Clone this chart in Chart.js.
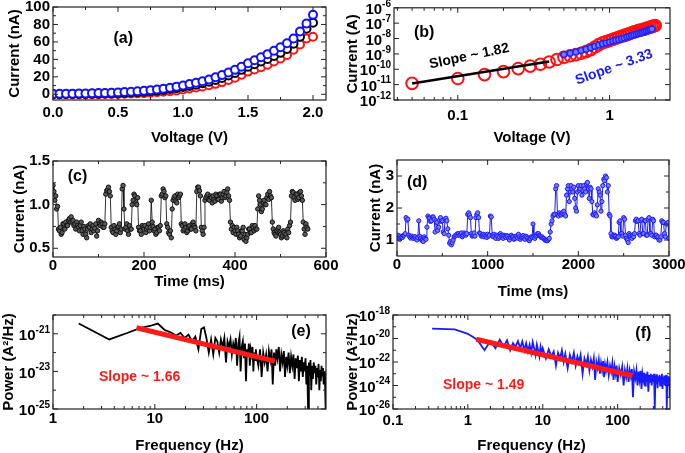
<!DOCTYPE html>
<html><head><meta charset="utf-8">
<script src="https://cdn.jsdelivr.net/npm/chart.js@4/dist/chart.umd.min.js"></script>
<style>
html,body{margin:0;padding:0;background:#fff;width:685px;height:453px;overflow:hidden;position:relative}
canvas{position:absolute}
</style></head><body>
<canvas id="ca" width="340" height="150" style="left:0;top:0"></canvas>
<canvas id="cb" width="345" height="150" style="left:340px;top:0"></canvas>
<canvas id="cc" width="340" height="150" style="left:0;top:150px"></canvas>
<canvas id="cd" width="345" height="150" style="left:340px;top:150px"></canvas>
<canvas id="ce" width="340" height="153" style="left:0;top:300px"></canvas>
<canvas id="cf" width="345" height="153" style="left:340px;top:300px"></canvas>
<script>
// ---------- DATA ----------
// (a) I-V curves, current in nA
const aVoltage = [0,0.05,0.1,0.15,0.2,0.25,0.3,0.35,0.4,0.45,0.5,0.55,0.6,0.65,0.7,0.75,0.8,0.85,0.9,0.95,1.0,1.05,1.1,1.15,1.2,1.25,1.3,1.35,1.4,1.45,1.5,1.55,1.6,1.65,1.7,1.75,1.8,1.85,1.9,1.95,2.0];
const aRed   = [0,0,0,0,0.1,0.1,0.2,0.2,0.3,0.4,0.5,0.7,0.9,1.1,1.4,1.8,2.3,2.9,3.6,4.5,5.5,6.6,7.8,9.1,10.5,12,14,16.5,19,22.5,26,28.5,31,34,37.5,41,45,51,57,64,66];
const aBlack = [0.2,0.2,0.3,0.3,0.4,0.5,0.6,0.7,0.9,1.1,1.3,1.6,2.0,2.4,2.9,3.5,4.2,5.0,6.0,7.1,8.3,9.6,11,12.6,14.4,16.5,18.8,21.5,24.5,28,31.5,34.5,37.5,40.5,44,47.5,52,58,66,75,82];
const aBlue  = [0.5,0.6,0.7,0.8,0.9,1.0,1.2,1.4,1.6,1.9,2.2,2.6,3.0,3.5,4.1,4.8,5.6,6.5,7.6,8.8,10.2,11.7,13.3,15,17,19.5,22,25,28,31.5,35.5,39,42.5,46,50,54,58.5,64,72,81,91];

// (b) log-log I-V, current in A
const bVoltageRed = [0.05,0.1,0.15,0.2,0.25,0.3,0.35,0.4,0.45,0.5,0.55,0.6,0.65,0.7,0.75,0.8,0.85,0.9,0.95,1.0,1.05,1.1,1.15,1.2,1.25,1.3,1.35,1.4,1.45,1.5,1.55,1.6,1.65,1.7,1.75,1.8,1.85,1.9,1.95,2.0];
const bCurrentRed = [1.2e-11,2.5e-11,4.5e-11,7e-11,1.1e-10,1.6e-10,2.1e-10,3e-10,4.3e-10,6e-10,7.5e-10,9e-10,1.1e-9,1.4e-9,1.9e-9,2.8e-9,4e-9,5.3e-9,6.3e-9,7.4e-9,8.8e-9,1.05e-8,1.2e-8,1.4e-8,1.6e-8,1.8e-8,2.1e-8,2.4e-8,2.7e-8,3e-8,3.3e-8,3.6e-8,3.9e-8,4.2e-8,4.6e-8,5e-8,5.5e-8,6e-8,6.5e-8,7e-8];
const bVoltageBlue = [0.5,0.55,0.6,0.65,0.7,0.75,0.8,0.85,0.9,0.95,1.0,1.05,1.1,1.15,1.2,1.25,1.3,1.35,1.4,1.45,1.5,1.55,1.6,1.65,1.7,1.75,1.8,1.85,1.9];
const bCurrentBlue = [9e-10,1.1e-9,1.35e-9,1.65e-9,2e-9,2.5e-9,3.1e-9,3.8e-9,4.5e-9,5.2e-9,6e-9,6.8e-9,7.7e-9,8.7e-9,9.8e-9,1.1e-8,1.25e-8,1.4e-8,1.55e-8,1.7e-8,1.9e-8,2.1e-8,2.3e-8,2.5e-8,2.8e-8,3.1e-8,3.4e-8,3.8e-8,4.2e-8];
const bFitVoltage = [0.05,0.4];
const bFitCurrent = [1.2e-11,3.2e-10];

// (c) current trace, nA, one sample every cStepMs
const cStepMs = 2;
const cCurrent = [
1.22,1.15,1.05,1.10,0.95,0.98,0.72,0.70,0.74,0.66,0.68,0.78,0.78,0.72,0.80,0.76,0.76,0.82,0.84,0.80,
0.86,0.80,0.82,0.76,0.78,0.72,0.80,0.76,0.74,0.70,0.76,0.80,0.70,0.66,0.75,0.72,0.66,0.62,0.72,0.76,
0.74,0.78,0.68,0.72,0.76,0.70,0.73,0.78,0.64,0.70,0.82,0.78,0.76,0.80,0.78,0.74,0.74,0.78,1.12,1.16,
1.17,1.20,1.15,1.10,0.74,0.70,0.68,0.76,0.72,0.66,0.70,0.74,0.75,0.78,0.68,0.72,1.18,1.22,0.95,0.72,
0.74,0.78,0.70,0.66,0.76,0.72,0.72,1.00,1.05,1.12,1.10,1.02,1.00,1.08,0.74,0.70,0.70,0.66,0.76,0.74,
0.72,0.76,0.68,0.72,0.74,0.78,0.70,0.74,1.05,0.80,0.75,0.70,0.72,0.66,0.68,0.74,0.74,0.70,0.76,1.10,
1.12,1.18,1.15,1.08,1.10,0.78,0.74,0.68,0.66,0.70,0.62,0.95,1.05,1.08,1.10,1.04,1.02,1.12,1.08,1.10,
1.12,0.78,0.76,0.70,0.72,0.78,0.74,0.68,0.70,0.74,0.76,0.72,0.72,0.78,0.80,0.76,0.74,0.70,1.15,1.20,
1.20,1.16,1.10,0.74,0.70,0.66,0.74,1.05,1.08,1.10,1.12,1.06,1.05,1.10,1.08,1.02,1.10,1.06,1.04,1.12,
1.10,1.06,1.06,1.12,1.12,1.04,1.08,1.12,1.15,1.08,1.10,1.14,1.18,1.10,1.05,0.80,0.72,0.76,0.68,0.74,
0.70,0.66,0.74,0.70,0.66,0.62,0.64,0.70,0.70,0.74,0.60,0.66,0.58,0.62,0.66,0.72,0.72,0.68,0.68,0.76,
0.74,0.70,0.76,0.72,0.72,0.95,1.10,1.05,1.00,0.92,0.95,1.02,1.05,1.00,1.00,1.08,1.12,1.06,1.15,1.10,
1.08,0.80,0.72,0.68,0.66,0.64,0.70,0.72,0.74,0.68,0.66,0.62,0.64,0.70,0.68,0.64,0.66,0.62,0.72,0.68,
0.76,0.80,1.10,1.15,1.14,1.08,1.05,1.12,1.12,1.06,1.08,1.14,1.15,1.10,1.05,0.80,0.72,0.66,0.78,0.74,
0.72];

// (d) current trace, nA, one sample every dStepMs
const dStepMs = 10;
const dCurrent = [
1.10,1.15,1.05,1.02,1.12,1.08,1.08,1.14,1.15,1.20,1.70,1.62,1.65,1.15,1.10,1.06,1.12,1.08,1.05,1.10,
1.10,1.04,1.00,1.08,1.60,1.12,1.05,1.00,0.98,0.95,1.10,1.05,1.02,1.40,1.75,1.70,1.68,1.58,1.60,1.72,
1.72,1.65,1.25,1.60,1.55,1.30,1.40,1.62,1.70,1.58,1.60,1.25,1.20,1.65,1.68,1.60,1.35,1.15,0.90,0.95,
0.85,0.92,1.00,1.10,1.12,1.16,1.15,1.20,1.20,1.14,1.18,1.22,1.10,1.15,1.22,1.18,1.15,1.20,1.80,1.85,
1.78,1.70,1.20,1.12,1.15,1.22,1.12,1.70,1.80,1.85,1.70,1.22,1.20,1.12,1.15,1.18,1.10,1.16,1.12,1.08,
1.18,1.12,1.15,1.75,1.72,1.15,1.10,1.18,1.12,1.05,1.15,1.12,1.05,1.10,1.20,1.14,1.10,1.05,1.15,1.12,
1.08,1.14,1.12,1.05,1.00,1.08,1.15,1.10,1.10,1.02,1.05,1.12,1.12,1.06,1.18,1.10,1.02,1.08,1.10,1.14,
1.08,1.02,1.12,1.10,1.05,1.00,0.98,1.04,1.10,1.08,1.50,1.10,1.05,1.12,1.15,1.20,1.20,1.14,1.12,1.08,
1.10,1.06,1.05,1.00,1.00,0.98,0.98,1.02,1.05,1.25,1.50,1.60,1.75,1.80,1.80,2.60,2.70,1.80,1.75,1.85,
1.80,1.78,1.85,1.82,1.90,1.80,1.75,2.40,2.60,2.70,2.20,2.50,2.70,2.60,2.50,2.65,2.30,2.00,1.90,2.50,
2.70,2.55,2.60,2.70,2.40,2.55,2.70,2.60,2.50,2.75,2.80,2.60,2.30,2.65,2.60,2.20,1.80,1.78,1.85,1.80,
1.75,2.10,2.60,2.50,2.40,1.90,2.20,2.70,2.90,2.85,3.00,2.95,2.50,2.70,1.80,1.75,1.20,1.10,1.10,1.15,
1.15,1.12,1.05,1.08,1.10,1.55,1.60,1.20,1.20,1.12,1.70,1.65,1.15,1.05,1.00,0.92,1.20,1.15,1.10,1.05,
1.15,1.10,1.20,1.60,1.65,1.58,1.60,1.20,1.15,1.62,1.65,1.20,1.20,1.60,1.60,1.15,1.15,1.65,1.70,1.20,
1.20,1.15,1.65,1.60,1.10,1.15,1.15,1.08,1.10,1.00,1.00,1.10,1.60,1.55,1.55,1.20,1.10,1.50,1.50,1.55,
1.05];

// (e) noise power spectrum
const eFreq = [1.79,3.57,5.36,7.14,8.93,10.7,12.5,14.3,16.1,17.9,
19.6,21.4,23.2,25.0,26.8,28.6,30.4,32.1,33.9,35.7,
37.5,39.3,41.1,42.9,44.6,46.4,48.2,50.0,51.8,53.6,
55.4,57.1,58.9,60.7,62.5,64.3,66.1,67.9,69.6,71.4,
73.2,75.0,76.8,78.6,80.4,82.1,83.9,85.7,87.5,89.3,
91.1,92.9,94.6,96.4,98.2,100,
104,108,112,116,120,124,128,132,136,140,
144,148,152,156,160,165,170,175,180,185,
190,195,200,206,212,218,224,230,236,242,
248,254,260,266,272,278,284,290,296,302,
308,314,320,326,332,338,344,350,357,364,
371,378,385,392,399,406,413,420,427,434,
441,448,455,462,469,476,483,490,497];
const ePower = [3.5e-21,5e-22,1.1e-21,2e-21,2.6e-21,3.5e-21,1.6e-21,1.2e-21,8e-22,1.1e-21,
6e-22,9e-22,4e-22,7e-22,1.5e-22,1.8e-21,2.2e-21,6e-22,1e-22,5e-22,
8e-23,6e-22,4e-22,1e-22,5e-22,2e-22,6e-22,3e-23,4e-22,2e-22,
5e-22,8e-23,3e-22,1.5e-22,6e-22,2e-23,3e-22,7e-22,1e-23,2e-22,
4e-22,5e-23,3e-22,3e-24,1.5e-22,6e-23,3e-22,2e-23,1.5e-22,8e-23,
2e-22,1e-23,1e-22,4e-23,1.5e-22,6e-23,
2e-23,1.5e-22,5e-24,1e-22,3e-23,8e-23,1e-23,1.2e-22,4e-23,1.5e-22,
2e-24,1e-22,2e-23,1.5e-22,5e-23,2e-22,1e-23,8e-23,3e-23,1.2e-22,
5e-24,6e-23,2e-23,1e-22,8e-24,6e-23,2e-23,8e-23,4e-24,5e-23,
1.5e-23,7e-23,3e-24,4e-23,1e-23,6e-23,5e-24,3e-23,1e-23,5e-23,
2e-24,2e-23,1e-25,3e-23,6e-24,4e-23,1e-24,2e-23,4e-24,3e-23,
8e-24,2e-23,2e-24,1.5e-23,5e-24,2.5e-23,1e-24,1.2e-23,3e-24,2e-23,
6e-24,1.5e-23,2e-24,1e-23,4e-24,1e-25,8e-24,2e-24,5e-24];
const eFitFreq = [6.6,151];
const eFitPower = [2.1e-21,3.5e-23];

// (f) noise power spectrum
const fFreq = [0.333,0.667,1.0,1.333,1.667,2.0,2.333,2.667,3.0,3.333,
3.667,4.0,4.333,4.667,5.0,5.333,5.667,6.0,6.333,6.667,
7.0,7.333,7.667,8.0,8.333,8.667,9.0,9.333,9.667,10.0,
11,12,13,14,15,16,17,18,19,20,
21.5,23,24.5,26,27.5,29,30.5,32,34,36,
38,40,42,44,46,48,50,52,54,56,
58,60,62,64,66,68,70,73,76,79,
82,85,88,91,94,97,100,
105,110,115,120,125,130,135,140,145,150,
155,160,166,172,178,184,190,196,202,208,
214,220,226,232,238,244,250,257,264,271,
278,285,292,299,306,313,320,327,334,341,
348,355,362,369,376,383,390,397,404,411,
418,425,432,439,446,453,460,467,474,481,
488,495,500];
const fPower = [7e-20,6e-20,2.5e-20,8e-21,1e-21,6e-21,1.5e-21,8e-21,2e-21,7e-21,
1e-21,4e-21,2e-21,6e-21,1.5e-21,5.5e-21,1e-21,4e-21,8e-22,3e-21,
6e-22,5e-21,1.5e-21,4e-22,3e-21,1e-21,3e-22,2e-21,6e-22,1.5e-21,
2e-22,1.2e-21,3e-22,8e-22,5e-23,6e-22,2e-22,1e-21,1e-22,5e-22,
3e-23,4e-22,1e-22,6e-22,5e-23,3e-22,1e-22,4e-22,1e-23,2e-22,
6e-23,3e-22,2e-23,1.5e-22,4e-23,2e-22,3e-24,1e-22,3e-23,1.5e-22,
1e-23,8e-23,2e-23,1.2e-22,5e-24,6e-23,2e-23,1e-22,8e-24,5e-23,
1.5e-23,8e-23,3e-24,4e-23,1e-23,5e-23,2e-24,
3e-23,8e-24,4e-23,1e-24,2e-23,5e-24,3e-23,2e-24,2e-23,6e-24,
2.5e-23,1e-25,1.5e-23,4e-24,2e-23,1e-24,1.5e-23,3e-24,1.8e-23,5e-25,
1e-23,3e-24,1.2e-23,1e-24,1e-23,2e-24,1.5e-23,3e-25,8e-24,2e-24,
1e-23,1e-24,8e-24,2e-24,1e-23,1e-26,7e-24,1.5e-24,9e-24,6e-25,
6e-24,2e-24,8e-24,1e-24,6e-24,2e-24,1e-23,5e-25,5e-24,1.5e-24,
7e-24,1e-24,6e-24,2e-24,8e-24,1e-26,5e-24,1.5e-24,6e-24,1e-24,
5e-24,1e-25,4e-24];
const fFitFreq = [1.29,158];
const fFitPower = [8.7e-21,6.8e-24];

// tick labels
const aXTicks = [0,0.5,1.0,1.5,2.0], aYTicks = [0,20,40,60,80,100];
const bXTicks = [0.1,1], bYExp = [-12,-11,-10,-9,-8,-7,-6];
const cXTicks = [0,200,400,600], cYTicks = [0.5,1.0,1.5];
const dXTicks = [0,1000,2000,3000], dYTicks = [1,2,3];
const eXTicks = [1,10,100], eYExp = [-25,-23,-21];
const fXTicks = [0.1,1,10,100], fYExp = [-26,-24,-22,-20,-18];

// ---------- helpers ----------
const FONT = '"Liberation Sans", Arial, Helvetica, sans-serif';
Chart.defaults.font.family = FONT;
Chart.defaults.color = '#000';
const pts = (xs, ys) => ys.map((y, i) => ({x: xs[i], y}));
const stepPts = (step, ys) => ys.map((y, i) => ({x: i * step, y}));
function linMinor(lo, hi, st){const r=[];for(let v=lo;v<=hi+1e-9;v+=st)r.push(+v.toFixed(6));return r;}
function logMinor(e0, e1){const r=[];for(let e=e0;e<e1;e++)for(let k=2;k<=9;k++)r.push(k*Math.pow(10,e));return r;}

const framePlugin = {
  id: 'frame',
  afterDatasetsDraw(chart, args, o) {
    const {ctx, chartArea: a} = chart;
    const xs = chart.scales.x, ys = chart.scales.y;
    ctx.save();
    ctx.strokeStyle = '#222'; ctx.lineWidth = 1.2;
    ctx.strokeRect(a.left, a.top, a.right - a.left, a.bottom - a.top);
    ctx.lineWidth = 1;
    const line = (x1,y1,x2,y2)=>{ctx.beginPath();ctx.moveTo(x1,y1);ctx.lineTo(x2,y2);ctx.stroke();};
    const xt = (vals, len) => vals.forEach(v => {
      const p = xs.getPixelForValue(v); if (p < a.left - 0.5 || p > a.right + 0.5) return;
      line(p, a.bottom, p, a.bottom - len); line(p, a.top, p, a.top + len);
    });
    const yt = (vals, len) => vals.forEach(v => {
      const p = ys.getPixelForValue(v); if (p < a.top - 0.5 || p > a.bottom + 0.5) return;
      line(a.left, p, a.left + len, p); line(a.right, p, a.right - len, p);
    });
    xt(o.xMajor || [], 5); xt(o.xMinor || [], 3);
    yt(o.yMajor || [], 5); yt(o.yMinor || [], 3);
    // power-of-ten labels on the y axis
    if (o.yExp) {
      o.yExp.forEach(e => {
        const p = ys.getPixelForValue(Math.pow(10, e));
        const s = String(e);
        ctx.fillStyle = '#000'; ctx.textBaseline = 'middle'; ctx.textAlign = 'left';
        ctx.font = 'bold 10px ' + FONT; const ws = ctx.measureText(s).width;
        ctx.font = 'bold 15px ' + FONT; const wb = ctx.measureText('10').width;
        const x0 = a.left - 3 - ws - wb;
        ctx.fillText('10', x0, p + 2);
        ctx.font = 'bold 10px ' + FONT; ctx.fillText(s, x0 + wb, p - 4);
      });
    }
    (o.notes || []).forEach(n => {
      const px = xs.getPixelForValue(n.x), py = ys.getPixelForValue(n.y);
      ctx.save(); ctx.translate(px, py); ctx.rotate((n.rot || 0) * Math.PI / 180);
      ctx.fillStyle = n.color || '#000'; ctx.font = 'bold ' + (n.size || 16) + 'px ' + FONT;
      ctx.textAlign = 'center'; ctx.textBaseline = 'middle';
      ctx.fillText(n.text, 0, 0); ctx.restore();
    });
    ctx.restore();
  }
};

function panel(id, area, xCfg, yCfg, datasets, deco) {
  const cv = document.getElementById(id);
  const W = cv.width, H = cv.height;
  const tickFont = {size: 15, weight: 'bold'};
  const titleFont = {size: 15, weight: 'bold', lineHeight: 1};
  const x = {
    type: xCfg.type, min: xCfg.min, max: xCfg.max,
    grid: {display: false, drawTicks: false}, border: {display: false},
    ticks: {font: tickFont, padding: xCfg.pad, maxRotation: 0, autoSkip: false, callback: xCfg.fmt, color: '#000'},
    title: {display: true, text: xCfg.title, font: titleFont, padding: {top: 0, bottom: xCfg.tpad}, color: '#000'},
    afterBuildTicks(s) { s.ticks = xCfg.ticks.map(v => ({value: v})); },
    afterFit(s) { s.height = H - area.bottom; s.paddingLeft = 0; s.paddingRight = 0; s.paddingTop = 0; s.paddingBottom = 0; }
  };
  const y = {
    type: yCfg.type, min: yCfg.min, max: yCfg.max,
    grid: {display: false, drawTicks: false}, border: {display: false},
    ticks: {display: !!yCfg.ticks, font: tickFont, padding: 3, autoSkip: false, callback: yCfg.fmt, color: '#000'},
    title: {display: true, text: yCfg.title, font: titleFont, padding: {top: yCfg.tpad, bottom: 0}, color: '#000'},
    afterBuildTicks(s) { s.ticks = (yCfg.ticks || yCfg.logTicks).map(v => ({value: v})); },
    afterFit(s) { s.width = area.left; s.paddingLeft = 0; s.paddingRight = 0; s.paddingTop = 0; s.paddingBottom = 0; }
  };
  return new Chart(cv, {
    type: 'scatter',
    data: {datasets},
    options: {
      responsive: false, animation: false, devicePixelRatio: 1, events: [],
      layout: {padding: {left: 0, top: area.top, right: W - area.right, bottom: 0}},
      plugins: {legend: {display: false}, tooltip: {enabled: false}, frame: deco},
      scales: {x, y}
    },
    plugins: [framePlugin]
  });
}

// (a)
const ringSet = (data, col) => ({data, showLine: true, borderColor: col, borderWidth: 1.2,
  pointRadius: 4, pointBorderWidth: 2, pointBorderColor: col, pointBackgroundColor: '#fff'});
panel('ca', {left: 53, top: 7, right: 326, bottom: 100},
  {type: 'linear', min: 0, max: 2.1, ticks: aXTicks, fmt: v => Number(v).toFixed(1), pad: 4, title: 'Voltage (V)', tpad: 4.5},
  {type: 'linear', min: -6.5, max: 100, ticks: aYTicks, fmt: v => String(v), title: 'Current (nA)', tpad: 7.5},
  [ringSet(pts(aVoltage, aBlue), '#1111ff'), ringSet(pts(aVoltage, aBlack), '#000'), ringSet(pts(aVoltage, aRed), '#ff1111')],
  {xMajor: aXTicks, xMinor: linMinor(0.25, 2.0, 0.5), yMajor: aYTicks, yMinor: linMinor(10, 90, 20),
   notes: [{text: '(a)', x: 0.54, y: 64, size: 16}]});

// (b)
panel('cb', {left: 54, top: 7, right: 330, bottom: 100},
  {type: 'logarithmic', min: 0.038, max: 2.5, ticks: bXTicks, fmt: v => String(v), pad: 7, title: 'Voltage (V)', tpad: 4.5},
  {type: 'logarithmic', min: 1e-12, max: 1e-6, logTicks: bYExp.map(e => Math.pow(10, e)), title: 'Current (A)', tpad: 5.5},
  [{data: pts(bVoltageBlue, bCurrentBlue), showLine: false, pointRadius: 3, pointBorderWidth: 1.5, pointBorderColor: '#2222ff', pointBackgroundColor: '#7777ff'},
   {data: pts(bFitVoltage, bFitCurrent), showLine: true, borderColor: '#000', borderWidth: 2.5, pointRadius: 0},
   {data: pts(bVoltageRed, bCurrentRed), showLine: false, pointRadius: 5.8, pointBorderWidth: 2, pointBorderColor: '#ff1111', pointBackgroundColor: 'rgba(0,0,0,0)'}],
  {xMajor: bXTicks, xMinor: logMinor(-2, 1).filter(v => v > 0.038 && v < 2.5), yMajor: bYExp.map(e => Math.pow(10, e)),
   yExp: bYExp,
   notes: [{text: '(b)', x: 0.06, y: 2.4e-8, size: 16},
           {text: 'Slope ~ 1.82', x: 0.119, y: 6.9e-10, size: 14, rot: -12},
           {text: 'Slope ~ 3.33', x: 1.07, y: 1.35e-10, size: 14, rot: -20, color: '#1a1aff'}]});

// (c)
panel('cc', {left: 53, top: 11, right: 326, bottom: 107},
  {type: 'linear', min: 0, max: 600, ticks: cXTicks, fmt: v => String(v), pad: 0, title: 'Time (ms)', tpad: 10.8},
  {type: 'linear', min: 0.4, max: 1.5, ticks: cYTicks, fmt: v => Number(v).toFixed(1), title: 'Current (nA)', tpad: 12.5},
  [{data: stepPts(cStepMs, cCurrent), showLine: true, borderColor: '#000', borderWidth: 0.8,
    pointRadius: 2.2, pointBorderWidth: 1, pointBorderColor: '#111', pointBackgroundColor: '#5a5a5a'}],
  {xMajor: cXTicks, xMinor: linMinor(100, 500, 200), yMajor: cYTicks, yMinor: [0.75, 1.25],
   notes: [{text: '(c)', x: 54, y: 1.316, size: 16}]});

// (d)
panel('cd', {left: 57, top: 10, right: 329, bottom: 106},
  {type: 'linear', min: 0, max: 3000, ticks: dXTicks, fmt: v => String(v), pad: 0, title: 'Time (ms)', tpad: 1},
  {type: 'linear', min: 0.5, max: 3.5, ticks: dYTicks, fmt: v => String(v), title: 'Current (nA)', tpad: 28.5},
  [{data: stepPts(dStepMs, dCurrent), showLine: true, borderColor: '#1a1aff', borderWidth: 1,
    pointRadius: 2.1, pointBorderWidth: 1, pointBorderColor: '#1a1aff', pointBackgroundColor: '#7a7aff'}],
  {xMajor: dXTicks, xMinor: [500, 1500, 2500], yMajor: dYTicks, yMinor: [1.5, 2.5],
   notes: [{text: '(d)', x: 223, y: 2.79, size: 16}]});

// (e)
panel('ce', {left: 53, top: 15, right: 326, bottom: 109},
  {type: 'logarithmic', min: 1, max: 480, ticks: eXTicks, fmt: v => String(v), pad: 1, title: 'Frequency (Hz)', tpad: 0},
  {type: 'logarithmic', min: 1e-25, max: 1e-20, logTicks: eYExp.map(e => Math.pow(10, e)), title: 'Power (A²/Hz)', tpad: 1.5},
  [{data: pts(eFitFreq, eFitPower), showLine: true, borderColor: '#ff1a1a', borderWidth: 5, pointRadius: 0},
   {data: pts(eFreq, ePower), showLine: true, borderColor: '#000', borderWidth: 1.8, pointRadius: 0}],
  {xMajor: eXTicks, xMinor: logMinor(0, 3).filter(v => v < 480), yMajor: eYExp.map(e => Math.pow(10, e)),
   yMinor: [1e-24, 1e-22, 1e-20], yExp: eYExp,
   notes: [{text: '(e)', x: 273, y: 1.25e-21, size: 16},
           {text: 'Slope ~ 1.66', x: 7.1, y: 5.2e-24, size: 14, color: '#ff1a1a'}]});

// (f)
panel('cf', {left: 53, top: 15, right: 330, bottom: 109},
  {type: 'logarithmic', min: 0.1, max: 500, ticks: fXTicks, fmt: v => String(v), pad: 3, title: 'Frequency (Hz)', tpad: 0},
  {type: 'logarithmic', min: 1e-26, max: 1e-18, logTicks: fYExp.map(e => Math.pow(10, e)), title: 'Power (A²/Hz)', tpad: 5},
  [{data: pts(fFitFreq, fFitPower), showLine: true, borderColor: '#ff1a1a', borderWidth: 5, pointRadius: 0},
   {data: pts(fFreq, fPower), showLine: true, borderColor: '#1a1aff', borderWidth: 1.8, pointRadius: 0}],
  {xMajor: fXTicks, xMinor: logMinor(-1, 3).filter(v => v < 500), yMajor: fYExp.map(e => Math.pow(10, e)),
   yMinor: [1e-25, 1e-23, 1e-21, 1e-19], yExp: fYExp,
   notes: [{text: '(f)', x: 220, y: 2.4e-20, size: 16},
           {text: 'Slope ~ 1.49', x: 1.62, y: 1.05e-24, size: 14, color: '#ff1a1a'}]});
</script>
</body></html>
